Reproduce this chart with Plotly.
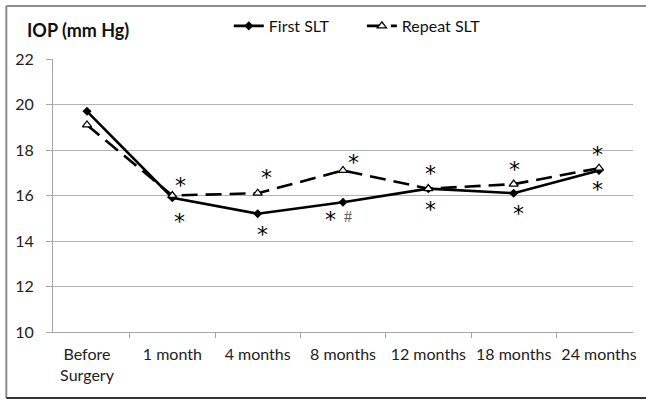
import plotly.graph_objects as go

# Mean IOP at each visit
visits = ["Before<br>Surgery", "1 month", "4 months", "8 months",
          "12 months", "18 months", "24 months"]
first_slt = [19.7, 15.9, 15.2, 15.7, 16.3, 16.1, 17.1]
repeat_slt = [19.1, 16.0, 16.1, 17.1, 16.3, 16.5, 17.2]

# Significance markers: (visit index, y, horizontal shift px, text)
sig_marks = [
    (1, 16.57, 8, "*"), (1, 14.99, 7, "*"),
    (2, 16.92, 9, "*"), (2, 14.42, 5, "*"),
    (3, 17.58, 10, "*"), (3, 15.08, -13, "*"),
    (4, 17.10, 2, "*"), (4, 15.52, 2, "*"),
    (5, 17.27, 1, "*"), (5, 15.34, 5, "*"),
    (6, 17.93, -2, "*"), (6, 16.40, -2, "*"),
]
hash_marks = [(3, 15.08, 5, "#")]

y_ticks = [10, 12, 14, 16, 18, 20, 22]

fig = go.Figure()
fig.add_trace(go.Scatter(
    x=visits, y=first_slt, name="First SLT", mode="lines+markers",
    line=dict(color="black", width=2.6),
    marker=dict(symbol="diamond", size=7, color="black"),
    legend="legend",
))
fig.add_trace(go.Scatter(
    x=visits, y=repeat_slt, name="Repeat SLT", mode="lines+markers",
    line=dict(color="black", width=2.6, dash="16px,8px"),
    marker=dict(symbol="triangle-up", size=8, color="white",
                line=dict(color="black", width=1.3)),
    legend="legend2",
))

for i, yv, dx, txt in sig_marks:
    fig.add_annotation(x=visits[i], y=yv, xshift=dx, yshift=-3, text=txt,
                       showarrow=False,
                       font=dict(family="DejaVu Sans", size=22, color="black"))
for i, yv, dx, txt in hash_marks:
    fig.add_annotation(x=visits[i], y=yv, xshift=dx, text=txt, showarrow=False,
                       font=dict(family="Liberation Serif", size=16, color="#555"))

fig.add_annotation(xref="paper", yref="paper", x=-0.0479, y=1.106,
                   xanchor="left", yanchor="middle", showarrow=False,
                   text="<b>IOP (mm Hg)</b>",
                   font=dict(family="Lato", size=18, color="#111"))

# outer frame
fig.add_shape(type="line", xref="paper", yref="paper",
              x0=-0.0805, x1=1.03, y0=1.194, y1=1.194,
              line=dict(color="#8c8c8c", width=2))
fig.add_shape(type="line", xref="paper", yref="paper",
              x0=-0.0805, x1=-0.0805, y0=1.194, y1=-0.2418,
              line=dict(color="#8c8c8c", width=2))
fig.add_shape(type="line", xref="paper", yref="paper",
              x0=-0.0805, x1=1.03, y0=-0.2418, y1=-0.2418,
              line=dict(color="#333", width=2))

legend_style = dict(orientation="h", yanchor="middle", xanchor="left",
                    font=dict(family="Lato", size=16, color="#111"),
                    bgcolor="rgba(0,0,0,0)", itemwidth=30)

fig.update_layout(
    width=646, height=400,
    margin=dict(l=53, r=9, t=59, b=68),
    paper_bgcolor="white", plot_bgcolor="white",
    font=dict(family="Lato", size=16, color="#222"),
    showlegend=True,
    legend=dict(x=0.3031, y=1.121, **legend_style),
    legend2=dict(x=0.5325, y=1.121, **legend_style),
    xaxis=dict(showgrid=False, showline=True, linecolor="#a6a6a6",
               linewidth=1, ticks="outside", tickson="boundaries",
               ticklen=5, tickcolor="#a6a6a6", ticklabelstandoff=8,
               fixedrange=True),
    yaxis=dict(range=[10, 22], tickvals=y_ticks, showgrid=True,
               gridcolor="#b3b3b3", gridwidth=1, showline=True,
               linecolor="#a6a6a6", ticks="outside", ticklen=6,
               tickcolor="#a6a6a6", zeroline=False, ticklabelstandoff=9),
)

fig.write_html("out.html")
